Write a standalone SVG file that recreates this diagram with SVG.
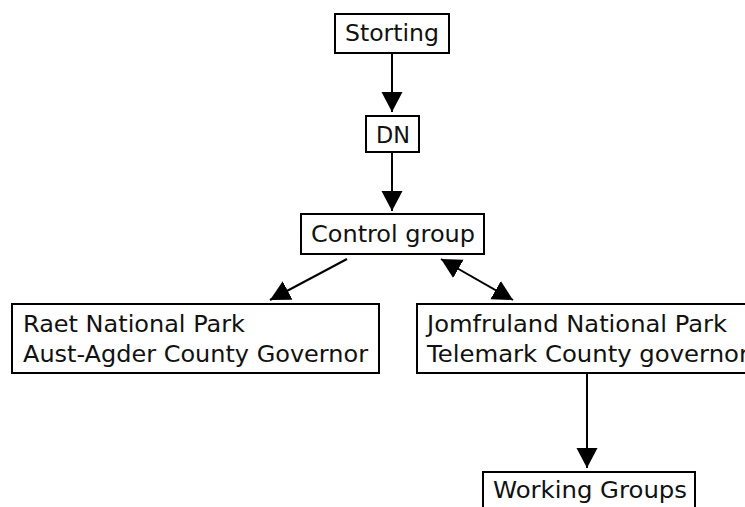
<svg xmlns="http://www.w3.org/2000/svg" width="745" height="507" viewBox="0 0 745 507">
<style>
.box{fill:#fff;stroke:#000;stroke-width:2}
.t{font-family:"DejaVu Sans",Verdana,sans-serif;font-size:23px;fill:#111}
.c{stroke:#000;stroke-width:2;fill:none}
</style>
<defs>
<marker id="ah" markerUnits="userSpaceOnUse" markerWidth="22" markerHeight="22" refX="20" refY="10.5" orient="auto-start-reverse" viewBox="0 0 22 22">
<path d="M0,0 L20,10.5 L0,21 z" fill="#000"/>
</marker>
</defs>
<rect width="745" height="507" fill="#fff"/>
<g id="connectors">
<line class="c" x1="392" y1="54" x2="392" y2="112" marker-end="url(#ah)"/>
<line class="c" x1="392" y1="153" x2="392" y2="211" marker-end="url(#ah)"/>
<line class="c" x1="347" y1="259" x2="270" y2="300" marker-end="url(#ah)"/>
<line class="c" x1="441" y1="259" x2="513" y2="300" marker-start="url(#ah)" marker-end="url(#ah)"/>
<line class="c" x1="587" y1="374" x2="587" y2="468" marker-end="url(#ah)"/>
</g>
<g id="storting">
<rect class="box" x="335" y="14" width="114" height="39"/>
<text class="t" x="345" y="41" textLength="94" lengthAdjust="spacingAndGlyphs">Storting</text>
</g>
<g id="dn">
<rect class="box" x="366" y="116" width="53" height="36"/>
<text class="t" x="376" y="143" textLength="34" lengthAdjust="spacingAndGlyphs">DN</text>
</g>
<g id="control">
<rect class="box" x="301" y="214" width="183" height="40"/>
<text class="t" x="311" y="242" textLength="164" lengthAdjust="spacingAndGlyphs">Control group</text>
</g>
<g id="raet">
<rect class="box" x="12" y="304" width="367" height="69"/>
<text class="t" x="23" y="332" textLength="222" lengthAdjust="spacingAndGlyphs">Raet National Park</text>
<text class="t" x="23" y="362" textLength="345" lengthAdjust="spacingAndGlyphs">Aust-Agder County Governor</text>
</g>
<g id="jomfruland">
<rect class="box" x="417" y="304" width="340" height="69"/>
<text class="t" x="427" y="332" textLength="300" lengthAdjust="spacingAndGlyphs">Jomfruland National Park</text>
<text class="t" x="427" y="362" textLength="322" lengthAdjust="spacingAndGlyphs">Telemark County governor</text>
</g>
<g id="working">
<rect class="box" x="483" y="472" width="212" height="40"/>
<text class="t" x="493" y="498" textLength="194" lengthAdjust="spacingAndGlyphs">Working Groups</text>
</g>
</svg>
